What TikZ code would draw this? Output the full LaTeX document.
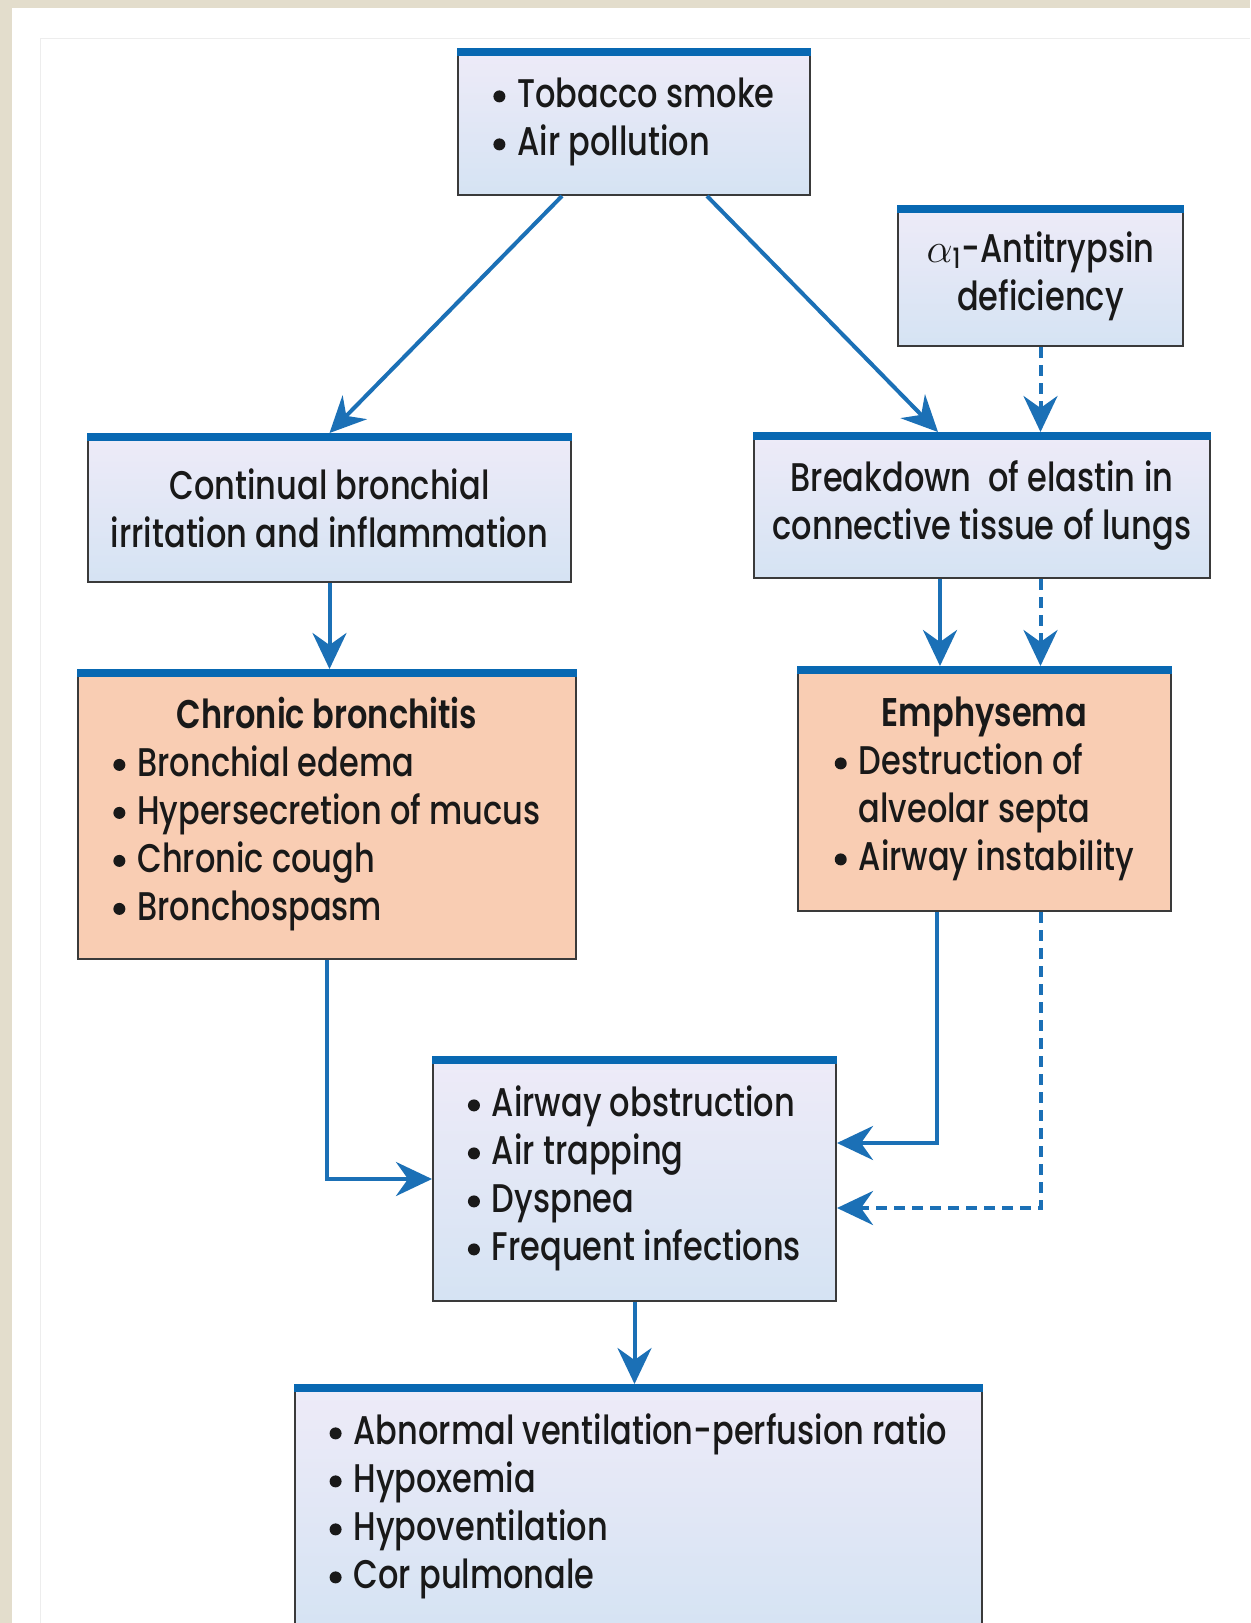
\documentclass[tikz,border=0pt]{standalone}
\usepackage{fontspec}
\setmainfont{Poppins}[FakeStretch=0.8, UprightFont=* Medium, BoldFont=* SemiBold]
\usetikzlibrary{arrows.meta,positioning}
\definecolor{barblue}{HTML}{0868B2}
\definecolor{arrblue}{HTML}{1B70B6}
\definecolor{boxtop}{HTML}{EEEBF8}
\definecolor{boxbot}{HTML}{D5E3F3}
\definecolor{salmon}{HTML}{F9CDB3}
\definecolor{boxline}{HTML}{3A3A3A}
\definecolor{frame}{HTML}{E3DDCC}
\newcommand{\itm}{\tikz[baseline=-5.6pt]\fill (0,0) circle (3pt);}

\begin{document}
\begin{tikzpicture}[x=0.5pt,y=-0.5pt,
   txt/.style={draw=boxline, line width=1pt, inner sep=0pt, align=center, text=black!90,
     font=\fontsize{20}{24}\selectfont},
   box/.style={txt, top color=boxtop, bottom color=boxbot},
   hot/.style={txt, fill=salmon},
   topbar/.style={barblue, line width=4.2pt},
   arr/.style={-{Stealth[length=18pt,width=17pt,inset=6pt]}, arrblue, line width=2pt},
   darr/.style={arr, dash pattern=on 5.5pt off 3.5pt}]
   \useasboundingbox (0,0) rectangle (1250,1623);
   \fill[frame] (0,0) rectangle (1250,1623);
   \fill[white] (12,8) rectangle (1250,1623);
   \draw[black!7] (40,1623) -- (40,38) -- (1250,38);

   \node[box, minimum width=176pt, minimum height=73pt] (smoke) at (634,122)
     {\begin{tabular}{@{}l@{\hspace{6pt}}l@{}}\itm & Tobacco smoke\\ \itm & Air pollution\end{tabular}};
   \node[box, minimum width=142.5pt, minimum height=70pt] (alpha) at (1040.5,276)
     {$\alpha$\textsubscript{1}-Antitrypsin\\deficiency};
   \node[box, minimum width=241.5pt, minimum height=74pt] (contin) at (329.5,508)
     {Continual bronchial\\irritation and inflammation};
   \node[box, minimum width=228pt, minimum height=72.5pt] (breakdown) at (982,505.5)
     {Breakdown\ \ of elastin in\\connective tissue of lungs};
   \node[hot, minimum width=249pt, minimum height=144.5pt] (chronic) at (327,814.5)
     {\begin{tabular}{@{}l@{\hspace{6pt}}l@{}}\multicolumn{2}{c}{\bfseries Chronic bronchitis}\\
       \itm & Bronchial edema\\ \itm & Hypersecretion of mucus\\ \itm & Chronic cough\\ \itm & Bronchospasm\end{tabular}};
   \node[hot, minimum width=186.5pt, minimum height=122pt] (emph) at (984.5,789)
     {\begin{tabular}{@{}l@{\hspace{6pt}}l@{}}\multicolumn{2}{c}{\bfseries Emphysema}\\
       \itm & Destruction of\\ & alveolar septa\\ \itm & Airway instability\end{tabular}};
   \node[box, minimum width=201.5pt, minimum height=122pt] (middle) at (634.5,1179)
     {\begin{tabular}{@{}l@{\hspace{6pt}}l@{}}\itm & Airway obstruction\\ \itm & Air trapping\\
       \itm & Dyspnea\\ \itm & Frequent infections\end{tabular}};
   \node[box, minimum width=343.5pt, minimum height=122pt] (bottom) at (638.5,1507)
     {\begin{tabular}{@{}l@{\hspace{6pt}}l@{}}\itm & Abnormal ventilation-perfusion ratio\\ \itm & Hypoxemia\\
       \itm & Hypoventilation\\ \itm & Cor pulmonale\end{tabular}};

   \foreach \n in {smoke,alpha,contin,breakdown,chronic,emph,middle,bottom}
     \draw[topbar] ([yshift=-2pt]\n.north west) -- ([yshift=-2pt]\n.north east);

   \draw[arr] ([xshift=-36pt]smoke.south) -- (contin.north);
   \draw[arr] ([xshift=36.5pt]smoke.south) -- ([xshift=-22pt]breakdown.north);
   \draw[darr] (alpha.south) -- (alpha.south |- breakdown.north);
   \draw[arr] (contin.south) -- (contin.south |- chronic.north);
   \draw[arr] ([xshift=-21pt]breakdown.south) -- ([xshift=-21pt]breakdown.south |- emph.north);
   \draw[darr] (breakdown.south -| alpha.south) -- (emph.north -| alpha.south);
   \draw[arr] (chronic.south) |- (middle.west);
   \draw[arr] ([xshift=-23.75pt]emph.south) |- ([yshift=18pt]middle.east);
   \draw[darr] (emph.south -| alpha.south) |- ([yshift=-14.5pt]middle.east);
   \draw[arr] (middle.south) -- (middle.south |- bottom.north);
\end{tikzpicture}
\end{document}
